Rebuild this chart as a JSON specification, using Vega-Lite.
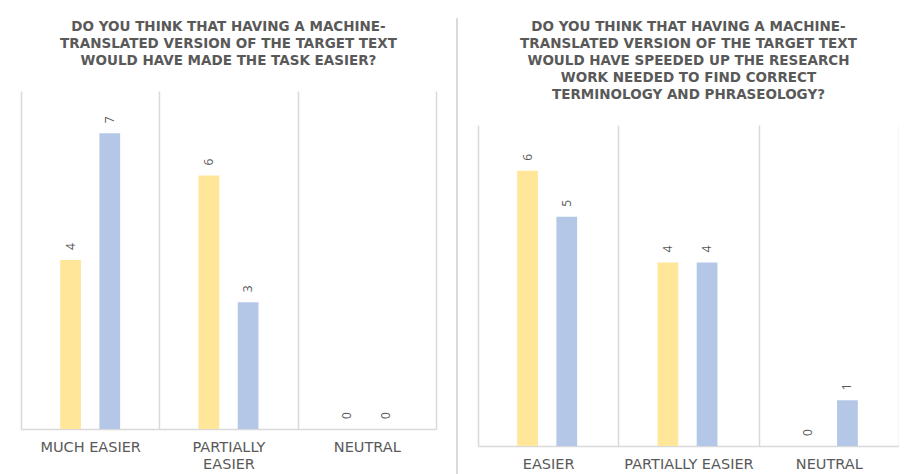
{
  "$schema": "https://vega.github.io/schema/vega-lite/v6.json",
  "padding": {"left": 20, "top": 17, "right": 0, "bottom": 0},
  "background": "white",
  "spacing": 19,
  "config": {
    "view": {"stroke": null},
    "title": {"font": "DejaVu Sans", "fontWeight": "bold", "fontSize": 13.5, "color": "#595959", "lineHeight": 17, "offset": 24, "anchor": "middle"},
    "axis": {
      "domainColor": "#d9d9d9", "domainWidth": 1.5,
      "gridColor": "#d9d9d9", "gridWidth": 1.5, "gridOpacity": 1,
      "labelFont": "DejaVu Sans", "labelFontSize": 14.5, "labelColor": "#595959",
      "labelPadding": 11, "labelLineHeight": 17
    }
  },
  "hconcat": [
    {"spacing": 0, "vconcat": [
      {"width": 1, "height": 1, "data": {"values": [{}]}, "mark": {"type": "rule", "opacity": 0}, "encoding": {}},
      {
        "width": 415, "height": 338,
        "title": {"text": ["DO YOU THINK THAT HAVING A MACHINE-", "TRANSLATED VERSION OF THE TARGET TEXT", "WOULD HAVE MADE THE TASK EASIER?"]},
        "data": {"values": [
          {"answer": "MUCH EASIER", "series": "A", "count": 4},
          {"answer": "MUCH EASIER", "series": "B", "count": 7},
          {"answer": "PARTIALLY EASIER", "series": "A", "count": 6},
          {"answer": "PARTIALLY EASIER", "series": "B", "count": 3},
          {"answer": "NEUTRAL", "series": "A", "count": 0},
          {"answer": "NEUTRAL", "series": "B", "count": 0}
        ]},
        "encoding": {
          "x": {"field": "answer", "type": "nominal", "sort": null,
                "scale": {"paddingInner": 0, "paddingOuter": 0},
                "axis": {"title": null, "labelAngle": 0, "tickBand": "extent", "grid": true, "ticks": false,
                         "labelExpr": "datum.label == 'PARTIALLY EASIER' ? ['PARTIALLY', 'EASIER'] : datum.label"}},
          "xOffset": {"field": "series", "type": "nominal", "scale": {"paddingInner": 0.47, "paddingOuter": 1.15}},
          "y": {"field": "count", "type": "quantitative", "scale": {"domain": [0, 8]}, "axis": null}
        },
        "layer": [
          {"mark": {"type": "bar"},
           "encoding": {"color": {"field": "series", "type": "nominal", "scale": {"range": ["#FFE699", "#B4C7E7"]}, "legend": null}}},
          {"mark": {"type": "text", "angle": 270, "align": "left", "baseline": "middle", "dx": 10, "fontSize": 12, "font": "Open Sans", "color": "#595959"},
           "encoding": {"text": {"field": "count", "type": "quantitative"}}}
        ]
      }
    ]},
    {
      "width": 1, "height": 458,
      "view": {"stroke": "#d9d9d9", "strokeWidth": 1},
      "data": {"values": [{}]},
      "mark": {"type": "rule", "opacity": 0},
      "encoding": {}
    },
    {"spacing": 0, "vconcat": [
      {"width": 1, "height": 1, "data": {"values": [{}]}, "mark": {"type": "rule", "opacity": 0}, "encoding": {}},
      {
        "width": 421, "height": 321,
        "title": {"text": ["DO YOU THINK THAT HAVING A MACHINE-", "TRANSLATED VERSION OF THE TARGET TEXT", "WOULD HAVE SPEEDED UP THE RESEARCH", "WORK NEEDED TO FIND CORRECT", "TERMINOLOGY AND PHRASEOLOGY?"]},
        "data": {"values": [
          {"answer": "EASIER", "series": "A", "count": 6},
          {"answer": "EASIER", "series": "B", "count": 5},
          {"answer": "PARTIALLY EASIER", "series": "A", "count": 4},
          {"answer": "PARTIALLY EASIER", "series": "B", "count": 4},
          {"answer": "NEUTRAL", "series": "A", "count": 0},
          {"answer": "NEUTRAL", "series": "B", "count": 1}
        ]},
        "encoding": {
          "x": {"field": "answer", "type": "nominal", "sort": null,
                "scale": {"paddingInner": 0, "paddingOuter": 0},
                "axis": {"title": null, "labelAngle": 0, "tickBand": "extent", "grid": true, "ticks": false}},
          "xOffset": {"field": "series", "type": "nominal", "scale": {"paddingInner": 0.47, "paddingOuter": 1.15}},
          "y": {"field": "count", "type": "quantitative", "scale": {"domain": [0, 7]}, "axis": null}
        },
        "layer": [
          {"mark": {"type": "bar"},
           "encoding": {"color": {"field": "series", "type": "nominal", "scale": {"range": ["#FFE699", "#B4C7E7"]}, "legend": null}}},
          {"mark": {"type": "text", "angle": 270, "align": "left", "baseline": "middle", "dx": 10, "fontSize": 12, "font": "Open Sans", "color": "#595959"},
           "encoding": {"text": {"field": "count", "type": "quantitative"}}}
        ]
      }
    ]}
  ]
}
